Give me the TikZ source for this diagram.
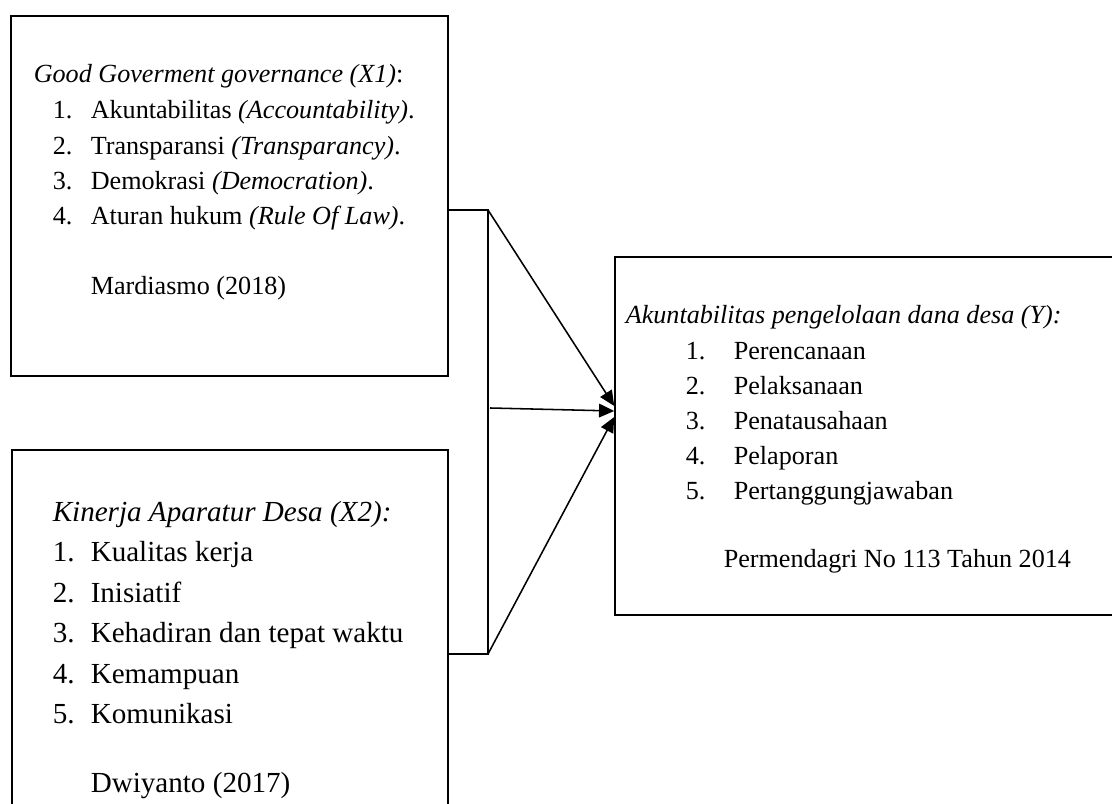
\documentclass[tikz,border=0pt]{standalone}
\usepackage{fontspec}
\setmainfont{Liberation Serif}
\usetikzlibrary{arrows.meta}

\tikzset{
  box/.style={draw, line width=1.1pt, inner sep=0pt},
  txt/.style={anchor=base west, inner sep=0pt, font=\fontsize{18.6}{22}\selectfont},
  bigtxt/.style={anchor=base west, inner sep=0pt, font=\fontsize{20.7}{24}\selectfont},
}
\newcommand{\numx}[1]{\makebox[0.95cm][l]{#1}}
\newcommand{\numy}[1]{\makebox[1.2cm][l]{#1}}

\begin{document}
\begin{tikzpicture}[>={Triangle[length=0.38cm,width=0.34cm]}, line width=1.1pt]
\useasboundingbox (0,0) rectangle (27.8,20.1);
%
\node[box, minimum width=10.925cm, minimum height=9cm] (x1) at (5.7375,15.2) {};
\node[txt] (x1t) at (0.825,18.025) {\textit{Good Goverment governance (X1)}:};
\node[txt] (x1a) at (1.3,17.125) {\numx{1.}Akuntabilitas \textit{(Accountability)}.};
\node[txt] (x1b) at (1.3,16.225) {\numx{2.}Transparansi \textit{(Transparancy)}.};
\node[txt] (x1c) at (1.3,15.35) {\numx{3.}Demokrasi \textit{(Democration)}.};
\node[txt] (x1d) at (1.3,14.475) {\numx{4.}Aturan hukum \textit{(Rule Of Law)}.};
\node[txt] (x1s) at (2.25,12.725) {Mardiasmo (2018)};
%
\node[box, minimum width=10.9cm, minimum height=9.85cm] (x2) at (5.75,3.925) {};
\node[bigtxt] (x2t) at (1.3,7.05) {\textit{Kinerja Aparatur Desa (X2):}};
\node[bigtxt] (x2a) at (1.3,6.05) {\numx{1.}Kualitas kerja};
\node[bigtxt] (x2b) at (1.3,5.0375) {\numx{2.}Inisiatif};
\node[bigtxt] (x2c) at (1.3,4.025) {\numx{3.}Kehadiran dan tepat waktu};
\node[bigtxt] (x2d) at (1.3,3.0125) {\numx{4.}Kemampuan};
\node[bigtxt] (x2e) at (1.3,2.0) {\numx{5.}Komunikasi};
\node[bigtxt] (x2s) at (2.25,0.275) {Dwiyanto (2017)};
%
\node[box, minimum width=12.925cm, minimum height=8.95cm] (y) at (21.8375,9.2) {};
\node[txt] (yt) at (15.625,12.0) {\textit{Akuntabilitas pengelolaan dana desa (Y):}};
\node[txt] (ya) at (17.125,11.1) {\numy{1.}Perencanaan};
\node[txt] (yb) at (17.125,10.225) {\numy{2.}Pelaksanaan};
\node[txt] (yc) at (17.125,9.35) {\numy{3.}Penatausahaan};
\node[txt] (yd) at (17.125,8.475) {\numy{4.}Pelaporan};
\node[txt] (ye) at (17.125,7.6) {\numy{5.}Pertanggungjawaban};
\node[txt] (ys) at (18.075,5.9) {Permendagri No 113 Tahun 2014};
%
\coordinate (jt) at (12.2,14.85);
\coordinate (jm) at (12.25,9.9);
\coordinate (jb) at (12.2,3.75);
\coordinate (tipt) at ([yshift=0.75cm]y.west);
\coordinate (tipm) at ([yshift=0.625cm]y.west);
\coordinate (tipb) at ([yshift=0.475cm]y.west);
%
\draw (x1.east |- jt) -- (jt) -- (jb) -- (x2.east |- jb);
\draw[->] (jt) -- (tipt);
\draw[->] (jm) -- (tipm);
\draw[->] (jb) -- (tipb);
\end{tikzpicture}
\end{document}
